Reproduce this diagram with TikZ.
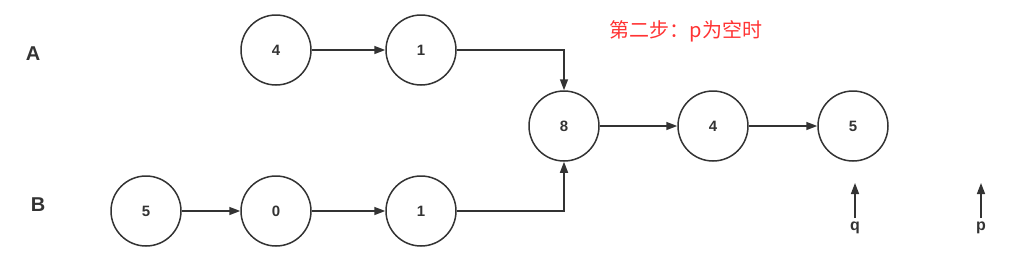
\documentclass[tikz,border=0pt]{standalone}
\usepackage{fontspec}
\setmainfont{Liberation Sans}
\newfontfamily\cjk{Noto Sans CJK SC}
\usetikzlibrary{arrows.meta}
\definecolor{ln}{HTML}{333333}
\definecolor{rd}{HTML}{FF3333}
\tikzset{
  lnode/.style={circle,draw=ln,line width=1.5pt,minimum size=70pt,inner sep=0pt,font=\fontsize{15}{17}\selectfont\bfseries,text=ln},
  conn/.style={draw=ln,line width=1.5pt,-{Triangle[length=11pt,width=8pt]}},
  lbl/.style={font=\fontsize{20}{22}\selectfont\bfseries,text=ln},
  ptr/.style={font=\fontsize{16}{18}\selectfont\bfseries,text=ln}
}
\begin{document}
\begin{tikzpicture}[x=1pt,y=-1pt]
\useasboundingbox (0,0) rectangle (1026,279);
\node[lbl] (A) at (33,54) {A};
\node[lbl] (B) at (38,205) {B};
\node[lnode] (a4) at (276,50) {4};
\node[lnode] (a1) at (421,50) {1};
\node[lnode] (m8) at (564,126) {8};
\node[lnode] (m4) at (713,126) {4};
\node[lnode] (m5) at (853,126) {5};
\node[lnode] (b5) at (146,211) {5};
\node[lnode] (b0) at (276,211) {0};
\node[lnode] (b1) at (421,211) {1};
\draw[conn] (a4) -- (a1);
\draw[conn] (a1.east) -| (m8.north);
\draw[conn] (b5) -- (b0);
\draw[conn] (b0) -- (b1);
\draw[conn] (b1.east) -| (m8.south);
\draw[conn] (m8) -- (m4);
\draw[conn] (m4) -- (m5);
\node[ptr,anchor=north] (q) at (855,218) {q};
\node[ptr,anchor=north] (p) at (981,218) {p};
\coordinate (qa) at (855,183);
\coordinate (pa) at (981,183);
\draw[conn] (q.north) -- (qa);
\draw[conn] (p.north) -- (pa);
\node[text=rd,font=\cjk\fontsize{20}{22}\selectfont] (title) at (686,31) {第二步：p为空时};
\end{tikzpicture}
\end{document}
